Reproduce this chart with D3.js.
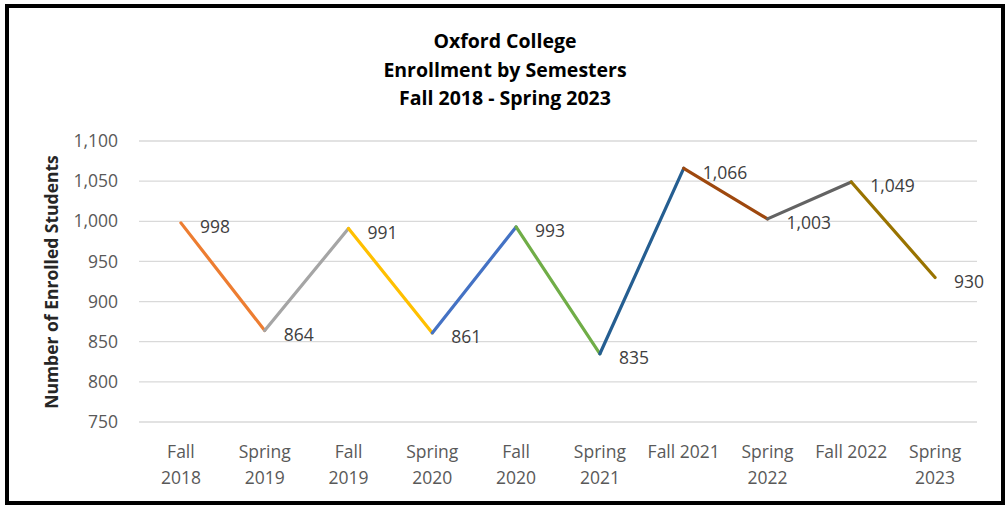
<!DOCTYPE html>
<html>
<head>
<meta charset="utf-8">
<script src="https://cdn.jsdelivr.net/npm/d3@7"></script>
<style>
  html, body { margin: 0; padding: 0; background: #fff; }
  svg { display: block; }
  text { font-family: "Open Sans", Lato, "Liberation Sans", sans-serif; }
</style>
</head>
<body>
<svg id="chart" width="1007" height="508"></svg>
<script>
// ---- data ----
const categories = ["Fall 2018","Spring 2019","Fall 2019","Spring 2020","Fall 2020","Spring 2021","Fall 2021","Spring 2022","Fall 2022","Spring 2023"];
const categoryLabelLines = [["Fall","2018"],["Spring","2019"],["Fall","2019"],["Spring","2020"],["Fall","2020"],["Spring","2021"],["Fall 2021"],["Spring","2022"],["Fall 2022"],["Spring","2023"]];
const enrollment = [998, 864, 991, 861, 993, 835, 1066, 1003, 1049, 930];
const yTicks = [750, 800, 850, 900, 950, 1000, 1050, 1100];
const titleLines = ["Oxford College", "Enrollment by Semesters", "Fall 2018 - Spring 2023"];
const yAxisTitle = "Number of Enrolled Students";

// segment palette (Excel vary-colors)
const segmentColors = ["#ED7D31","#A5A5A5","#FFC000","#4472C4","#70AD47","#255E91","#9E480E","#636363","#997300"];

const svg = d3.select("#chart");
const plot = {left: 139, right: 977, top: 141, bottom: 422};

// outer border
svg.append("rect").attr("x", 7).attr("y", 6).attr("width", 996).attr("height", 497)
  .attr("fill", "#fff").attr("stroke", "#000").attr("stroke-width", 4);

const x = d3.scaleBand().domain(categories).range([plot.left, plot.right]).padding(0);
const y = d3.scaleLinear().domain([750, 1100]).range([plot.bottom, plot.top]);
const cx = d => x(d) + x.bandwidth() / 2;

// gridlines
svg.append("g").selectAll("line").data(yTicks).join("line")
  .attr("x1", plot.left).attr("x2", plot.right)
  .attr("y1", d => y(d)).attr("y2", d => y(d))
  .attr("stroke", "#D9D9D9").attr("stroke-width", 1.3);

// y axis labels
const yAxis = d3.axisLeft(y).tickValues(yTicks).tickSize(0).tickPadding(0)
  .tickFormat(d3.format(","));
const yg = svg.append("g").attr("transform", `translate(${118},0)`).call(yAxis);
yg.select(".domain").remove();
yg.selectAll("text").attr("fill", "#595959").style("font-size", "17.5px")
  .style("font-family", "'Open Sans', sans-serif");

// x axis labels
const xg = svg.append("g");
categories.forEach((c, i) => {
  const t = xg.append("text").attr("x", cx(c)).attr("y", 458)
    .attr("text-anchor", "middle").attr("fill", "#595959").style("font-size", "17.5px");
  categoryLabelLines[i].forEach((ln, j) => {
    t.append("tspan").attr("x", cx(c)).attr("dy", j === 0 ? 0 : 25.5).text(ln);
  });
});

// line segments
const pts = categories.map((c, i) => ({c, v: enrollment[i]}));
const segs = d3.pairs(pts);
svg.append("g").selectAll("line").data(segs).join("line")
  .attr("x1", d => cx(d[0].c)).attr("y1", d => y(d[0].v))
  .attr("x2", d => cx(d[1].c)).attr("y2", d => y(d[1].v))
  .attr("stroke", (d, i) => segmentColors[i]).attr("stroke-width", 3.2)
  .attr("stroke-linecap", "round");

// data labels
svg.append("g").selectAll("text").data(pts).join("text")
  .attr("x", d => cx(d.c) + 19).attr("y", d => y(d.v) + 10.5)
  .attr("fill", "#404040").style("font-size", "17.5px")
  .text(d => d3.format(",")(d.v));

// title
const tg = svg.append("text").attr("x", 505).attr("y", 48)
  .attr("text-anchor", "middle").attr("fill", "#000")
  .style("font-size", "19.5px").style("font-weight", "bold");
titleLines.forEach((ln, j) => tg.append("tspan").attr("x", 505).attr("dy", j === 0 ? 0 : 28.5).text(ln));

// y axis title
svg.append("text").attr("transform", `translate(58,282) rotate(-90)`)
  .attr("text-anchor", "middle").attr("fill", "#262626")
  .style("font-size", "17.5px").style("font-weight", "bold")
  .text(yAxisTitle);
</script>
</body>
</html>
